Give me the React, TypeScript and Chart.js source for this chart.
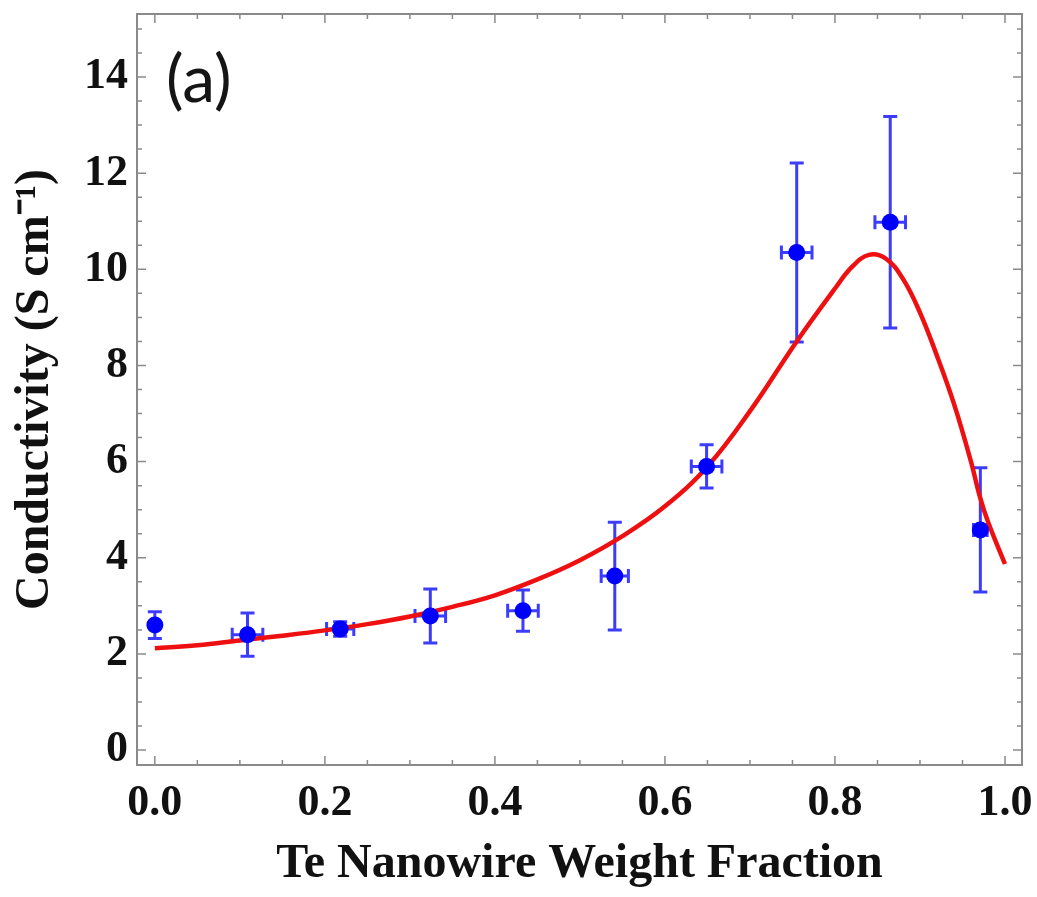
import React, { useEffect, useRef } from 'react';
import { Chart, registerables } from 'chart.js';
Chart.register(...registerables);

// Measured points
const weightFraction = [0.0, 0.109, 0.218, 0.324, 0.433, 0.541, 0.649, 0.755, 0.865, 0.971];
const conductivity = [2.6, 2.4, 2.52, 2.79, 2.9, 3.62, 5.9, 10.35, 10.98, 4.58];
const conductivityErr = [0.28, 0.45, 0.15, 0.56, 0.43, 1.12, 0.45, 1.86, 2.2, 1.29];
const fractionErr = [0, 0.018, 0.016, 0.018, 0.018, 0.016, 0.018, 0.018, 0.018, 0.008];

// Fit curve
const fitX = [0, 0.05, 0.1, 0.15, 0.2, 0.25, 0.3, 0.35, 0.4, 0.45, 0.5, 0.55, 0.6, 0.65, 0.7, 0.755, 0.8, 0.82, 0.84, 0.86, 0.88, 0.9, 0.92, 0.94, 0.96, 0.97, 0.98, 1.0];
const fitY = [2.12, 2.18, 2.28, 2.38, 2.49, 2.62, 2.78, 2.98, 3.22, 3.55, 3.95, 4.45, 5.07, 5.9, 7.05, 8.5, 9.6, 10.05, 10.3, 10.22, 9.8, 9.1, 8.2, 7.2, 6.0, 5.3, 4.75, 3.87];

// Axes
const xTickValues = [0, 0.2, 0.4, 0.6, 0.8, 1.0];
const xTickLabels = ['0.0', '0.2', '0.4', '0.6', '0.8', '1.0'];
const yTickValues = [0, 2, 4, 6, 8, 10, 12, 14];
const yTickLabels = ['0', '2', '4', '6', '8', '10', '12', '14'];
const xMinorStep = 0.05;
const yMinorStep = 0.5;
const xRange = [-0.021, 1.02];
const yRange = [-0.31, 15.31];

const xTitle = 'Te Nanowire Weight Fraction';
const yTitle = 'Conductivity (S cm\u207B\u00B9)';
const panelLabel = '(a)';

const frameColor = '#8a8a8a';
const errColor = '#3c3cff';

const decorPlugin = {
  id: 'decor',
  beforeDatasetsDraw(chart: any) {
    const { ctx } = chart;
    const xs = chart.scales.x;
    const ys = chart.scales.y;
    ctx.save();
    ctx.strokeStyle = errColor;
    ctx.lineWidth = 3;
    const cap = 7;
    for (let i = 0; i < weightFraction.length; i++) {
      const px = xs.getPixelForValue(weightFraction[i]);
      const py = ys.getPixelForValue(conductivity[i]);
      const yTop = ys.getPixelForValue(conductivity[i] + conductivityErr[i]);
      const yBot = ys.getPixelForValue(conductivity[i] - conductivityErr[i]);
      ctx.beginPath();
      ctx.moveTo(px, yTop); ctx.lineTo(px, yBot);
      ctx.moveTo(px - cap, yTop); ctx.lineTo(px + cap, yTop);
      ctx.moveTo(px - cap, yBot); ctx.lineTo(px + cap, yBot);
      ctx.stroke();
      if (fractionErr[i] > 0) {
        const xL = xs.getPixelForValue(weightFraction[i] - fractionErr[i]);
        const xR = xs.getPixelForValue(weightFraction[i] + fractionErr[i]);
        ctx.beginPath();
        ctx.moveTo(xL, py); ctx.lineTo(xR, py);
        ctx.moveTo(xL, py - cap); ctx.lineTo(xL, py + cap);
        ctx.moveTo(xR, py - cap); ctx.lineTo(xR, py + cap);
        ctx.stroke();
      }
    }
    ctx.restore();
  },
  afterDraw(chart: any) {
    const { ctx, chartArea: a } = chart;
    const xs = chart.scales.x;
    const ys = chart.scales.y;
    ctx.save();
    // frame
    ctx.strokeStyle = frameColor;
    ctx.lineWidth = 2;
    ctx.strokeRect(a.left, a.top, a.right - a.left, a.bottom - a.top);
    // ticks
    ctx.lineWidth = 1.5;
    ctx.beginPath();
    for (let v = 0; v <= 1.0001; v += xMinorStep) {
      const px = xs.getPixelForValue(v);
      const major = Math.abs(v / 0.2 - Math.round(v / 0.2)) < 1e-6;
      const len = major ? 9 : 5;
      ctx.moveTo(px, a.bottom); ctx.lineTo(px, a.bottom - len);
      ctx.moveTo(px, a.top); ctx.lineTo(px, a.top + len);
    }
    for (let v = 0; v <= 15.0001; v += yMinorStep) {
      const py = ys.getPixelForValue(v);
      const major = Math.abs(v / 2 - Math.round(v / 2)) < 1e-6;
      const len = major ? 9 : 5;
      ctx.moveTo(a.left, py); ctx.lineTo(a.left + len, py);
      ctx.moveTo(a.right, py); ctx.lineTo(a.right - len, py);
    }
    ctx.stroke();
    // panel label
    ctx.fillStyle = '#151515';
    ctx.font = '66px Lato, "Open Sans", sans-serif';
    ctx.textBaseline = 'alphabetic';
    ctx.textAlign = 'left';
    ctx.fillText(panelLabel, 166, 102);
    ctx.restore();
  },
};

export default function App() {
  const ref = useRef<HTMLCanvasElement | null>(null);
  useEffect(() => {
    if (!ref.current) return;
    const chart = new Chart(ref.current, {
      type: 'scatter',
      data: {
        datasets: [
          {
            label: 'data',
            data: weightFraction.map((x, i) => ({ x, y: conductivity[i] })),
            backgroundColor: '#0000ff',
            borderColor: '#0000ff',
            borderWidth: 0,
            pointRadius: 8.5,
            order: 0,
          },
          {
            label: 'fit',
            data: fitX.map((x, i) => ({ x, y: fitY[i] })),
            showLine: true,
            borderColor: '#ee1010',
            borderWidth: 4.5,
            pointRadius: 0,
            tension: 0.4,
            order: 1,
          } as any,
        ],
      },
      options: {
        animation: false,
        responsive: false,
        events: [],
        layout: { padding: { top: 14, right: 15, left: 0, bottom: 0 } },
        plugins: { legend: { display: false }, tooltip: { enabled: false } },
        scales: {
          x: {
            type: 'linear',
            min: xRange[0],
            max: xRange[1],
            grid: { display: false, drawTicks: false },
            border: { display: false },
            afterBuildTicks: (s: any) => { s.ticks = xTickValues.map((v) => ({ value: v })); },
            afterFit: (s: any) => { s.height = 132; s.paddingLeft = 0; s.paddingRight = 0; },
            ticks: {
              padding: 12,
              color: '#111',
              font: { family: '"Liberation Serif", "Times New Roman", serif', size: 44, weight: 'bold' },
              callback: (v: any) => { const i = xTickValues.findIndex((t) => Math.abs(t - v) < 1e-6); return i >= 0 ? xTickLabels[i] : ''; },
              maxRotation: 0,
              autoSkip: false,
            },
            title: {
              display: true,
              text: xTitle,
              color: '#111',
              padding: { top: 0, bottom: 4 },
              font: { family: '"Liberation Serif", "Times New Roman", serif', size: 48, weight: 'bold' },
            },
          },
          y: {
            type: 'linear',
            min: yRange[0],
            max: yRange[1],
            grid: { display: false, drawTicks: false },
            border: { display: false },
            afterBuildTicks: (s: any) => { s.ticks = yTickValues.map((v) => ({ value: v })); },
            afterFit: (s: any) => { s.width = 137; s.paddingTop = 0; s.paddingBottom = 0; },
            ticks: {
              padding: 9,
              color: '#111',
              font: { family: '"Liberation Serif", "Times New Roman", serif', size: 44, weight: 'bold' },
              callback: (v: any) => { const i = yTickValues.findIndex((t) => Math.abs(t - v) < 1e-6); return i >= 0 ? yTickLabels[i] : ''; },
              autoSkip: false,
            },
            title: {
              display: true,
              text: yTitle,
              color: '#111',
              padding: { top: 7, bottom: 0 },
              font: { family: '"Liberation Serif", "Times New Roman", serif', size: 48, weight: 'bold' },
            },
          },
        },
      },
      plugins: [decorPlugin],
    });
    return () => chart.destroy();
  }, []);
  return (
    <div style={{ position: 'fixed', left: 0, top: 0, width: 1037, height: 897, background: '#fff' }}>
      <canvas ref={ref} width={1037} height={897} style={{ width: 1037, height: 897, display: 'block' }} />
    </div>
  );
}
